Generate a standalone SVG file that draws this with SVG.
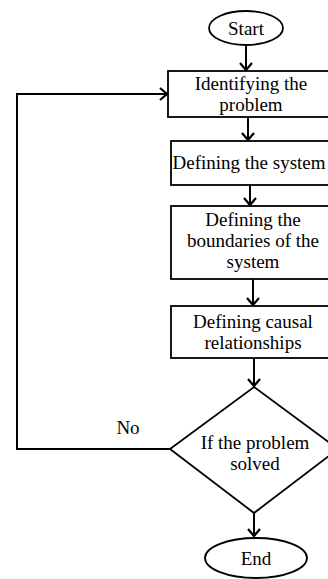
<svg xmlns="http://www.w3.org/2000/svg" width="328" height="579" viewBox="0 0 328 579">
<style>
.s{fill:#fff;stroke:#000;stroke-width:1.8}
.t{font-family:"Liberation Serif","Times New Roman",serif;font-size:19px;fill:#000;text-anchor:middle}
.c{fill:none;stroke:#000;stroke-width:2}
</style>
<defs>
<marker id="a" markerUnits="userSpaceOnUse" markerWidth="12" markerHeight="14" refX="9" refY="7" orient="auto">
<path d="M2,1 L9,7 L2,13" fill="none" stroke="#000" stroke-width="2.2"/>
</marker>
</defs>
<rect width="328" height="579" fill="#fff"/>
<g id="connectors">
<line class="c" x1="246" y1="45" x2="246" y2="70" marker-end="url(#a)"/>
<line class="c" x1="248" y1="117" x2="248" y2="140" marker-end="url(#a)"/>
<line class="c" x1="250" y1="185" x2="250" y2="205" marker-end="url(#a)"/>
<line class="c" x1="253" y1="279" x2="253" y2="305" marker-end="url(#a)"/>
<line class="c" x1="254" y1="358" x2="254" y2="386" marker-end="url(#a)"/>
<line class="c" x1="254" y1="513" x2="254" y2="536" marker-end="url(#a)"/>
<polyline class="c" points="170,449 17,449 17,94 167,94" marker-end="url(#a)"/>
<text class="t" x="128" y="434">No</text>
</g>
<g id="start">
<ellipse class="s" cx="246" cy="28" rx="37" ry="17"/>
<text class="t" x="246" y="35">Start</text>
</g>
<g id="identify">
<rect class="s" x="168" y="71" width="162" height="46"/>
<text class="t" x="251" y="90">Identifying the</text>
<text class="t" x="251" y="111">problem</text>
</g>
<g id="system">
<rect class="s" x="171" y="141" width="160" height="44"/>
<text class="t" x="249" y="169">Defining the system</text>
</g>
<g id="boundaries">
<rect class="s" x="171" y="206" width="160" height="73"/>
<text class="t" x="253" y="226">Defining the</text>
<text class="t" x="253" y="247">boundaries of the</text>
<text class="t" x="253" y="268">system</text>
</g>
<g id="causal">
<rect class="s" x="171" y="306" width="160" height="52"/>
<text class="t" x="253" y="328">Defining causal</text>
<text class="t" x="253" y="349">relationships</text>
</g>
<g id="decision">
<polygon class="s" points="254,387 338,449 254,513 170,449"/>
<text class="t" x="255" y="449">If the problem</text>
<text class="t" x="255" y="470">solved</text>
</g>
<g id="end">
<ellipse class="s" cx="256" cy="558" rx="51" ry="20"/>
<text class="t" x="256" y="565">End</text>
</g>
</svg>
